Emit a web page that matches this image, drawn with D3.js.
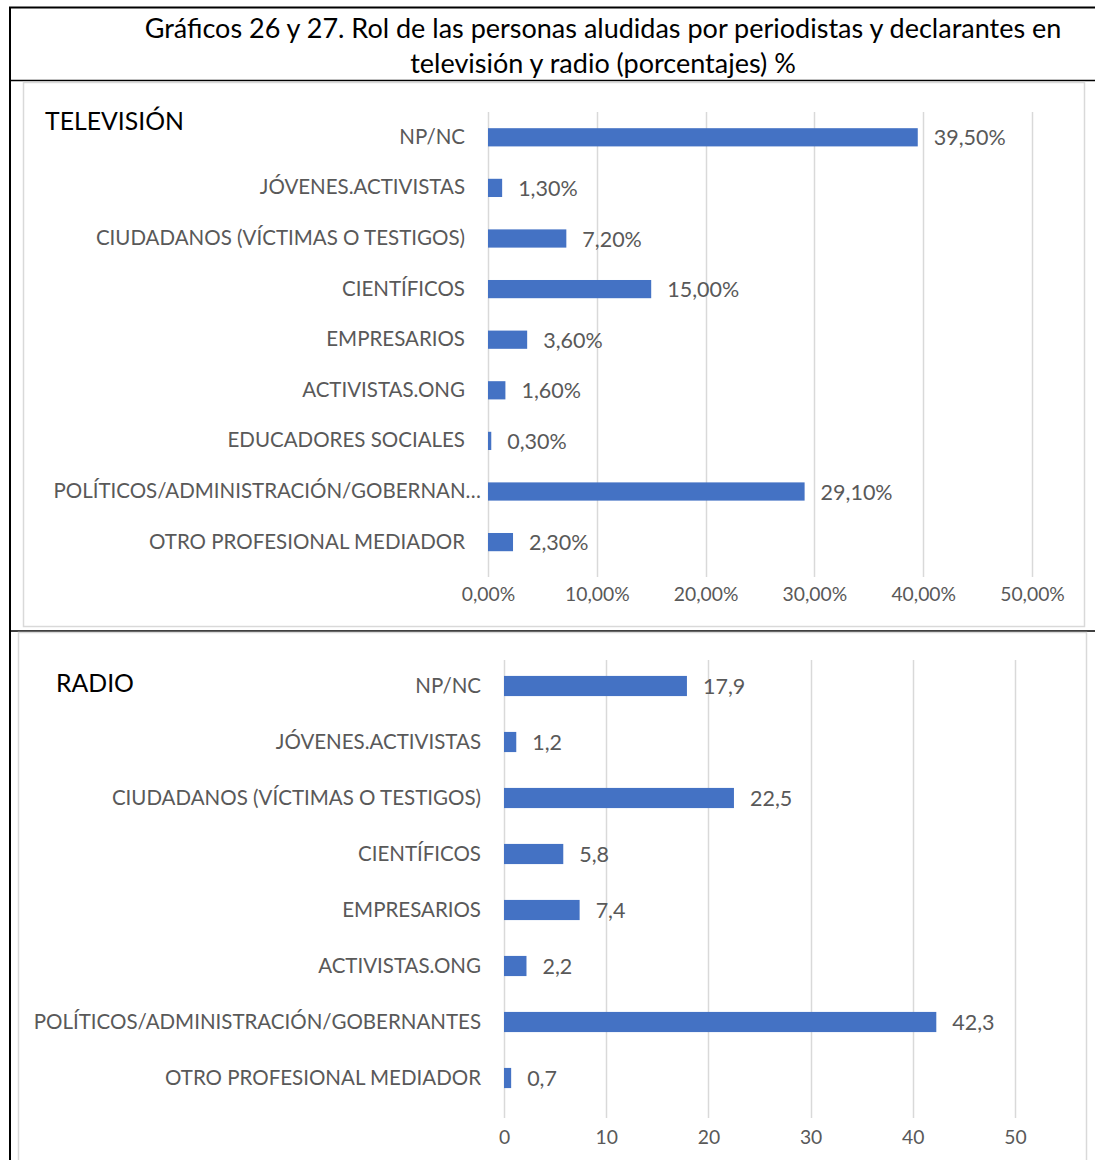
<!DOCTYPE html>
<html>
<head>
<meta charset="utf-8">
<script src="https://cdn.jsdelivr.net/npm/d3@7"></script>
<style>
  html, body { margin: 0; padding: 0; background: #fff; }
  svg { display: block; }
  text { font-family: Lato, "Open Sans", sans-serif; }
</style>
</head>
<body>
<svg id="chart" width="1095" height="1160"></svg>
<script>
// Categories and values for each medium
const tvCategories = [
  "NP/NC",
  "JÓVENES.ACTIVISTAS",
  "CIUDADANOS (VÍCTIMAS O TESTIGOS)",
  "CIENTÍFICOS",
  "EMPRESARIOS",
  "ACTIVISTAS.ONG",
  "EDUCADORES SOCIALES",
  "POLÍTICOS/ADMINISTRACIÓN/GOBERNAN…",
  "OTRO PROFESIONAL MEDIADOR"
];
const tvValues = [0.395, 0.013, 0.072, 0.150, 0.036, 0.016, 0.003, 0.291, 0.023];
const tvTicks = [0, 0.1, 0.2, 0.3, 0.4, 0.5];

const radioCategories = [
  "NP/NC",
  "JÓVENES.ACTIVISTAS",
  "CIUDADANOS (VÍCTIMAS O TESTIGOS)",
  "CIENTÍFICOS",
  "EMPRESARIOS",
  "ACTIVISTAS.ONG",
  "POLÍTICOS/ADMINISTRACIÓN/GOBERNANTES",
  "OTRO PROFESIONAL MEDIADOR"
];
const radioValues = [17.9, 1.2, 22.5, 5.8, 7.4, 2.2, 42.3, 0.7];
const radioTicks = [0, 10, 20, 30, 40, 50];

const titleLines = [
  "Gráficos 26 y 27. Rol de las personas aludidas por periodistas y declarantes en",
  "televisión y radio (porcentajes) %"
];

const esLocale = d3.formatLocale({ decimal: ",", thousands: ".", grouping: [3], currency: ["", " €"] });
const fmtPct = esLocale.format(".2%");
const fmtNum = v => esLocale.format(".1f")(v);
const fmtInt = esLocale.format("d");

const BAR = "#4472C4";
const GRID = "#d9d9d9";
const TXT = "#595959";

const svg = d3.select("#chart");

// Table frame around the two charts
const frame = svg.append("g").attr("stroke", "#000").attr("fill", "none");
frame.append("line").attr("x1", 9).attr("x2", 1095).attr("y1", 7.5).attr("y2", 7.5).attr("stroke-width", 2);
frame.append("line").attr("x1", 10).attr("x2", 10).attr("y1", 7).attr("y2", 1160).attr("stroke-width", 2);
frame.append("line").attr("x1", 9).attr("x2", 1095).attr("y1", 80.5).attr("y2", 80.5).attr("stroke-width", 1.5);
frame.append("line").attr("x1", 9).attr("x2", 1095).attr("y1", 631).attr("y2", 631).attr("stroke-width", 1.5);

// Title
svg.append("g").selectAll("text").data(titleLines).join("text")
  .attr("x", 603).attr("y", (d, i) => 37.5 + i * 35)
  .attr("text-anchor", "middle")
  .attr("font-size", 27)
  .attr("fill", "#000")
  .text(d => d);

function drawPanel(opts) {
  const g = svg.append("g");
  // chart area border
  g.append("rect")
    .attr("x", opts.box[0] + 0.5).attr("y", opts.box[1] + 0.5)
    .attr("width", opts.box[2]).attr("height", opts.box[3])
    .attr("fill", "#fff").attr("stroke", GRID).attr("stroke-width", 1.5);

  g.append("text")
    .attr("x", opts.titlePos[0]).attr("y", opts.titlePos[1])
    .attr("font-size", 24.8).attr("fill", "#000")
    .text(opts.title);

  const x = d3.scaleLinear().domain(opts.domain).range(opts.xRange);
  const y = d3.scaleBand().domain(opts.categories).range(opts.yRange).paddingInner(opts.pad).paddingOuter(opts.pad / 2);

  // vertical gridlines
  g.append("g").selectAll("line").data(opts.ticks).join("line")
    .attr("x1", d => Math.round(x(d)) + 0.5).attr("x2", d => Math.round(x(d)) + 0.5)
    .attr("y1", opts.gridY[0]).attr("y2", opts.gridY[1])
    .attr("stroke", GRID).attr("stroke-width", 1.5);

  // x axis tick labels
  const axis = d3.axisBottom(x).tickValues(opts.ticks).tickFormat(opts.tickFmt).tickSize(0).tickPadding(0);
  const ax = g.append("g").attr("transform", `translate(0,${opts.tickY})`).call(axis);
  ax.select(".domain").remove();
  ax.selectAll("text").attr("font-size", 19.3).attr("fill", TXT).attr("font-family", null);

  // category labels (a truncated label sits closer to the axis)
  const ay = d3.axisLeft(y).tickSize(0).tickPadding(0);
  const yg = g.append("g").attr("transform", `translate(${opts.labelX},0)`).call(ay);
  yg.select(".domain").remove();
  yg.selectAll("text").attr("font-size", 20.5).attr("fill", TXT).attr("font-family", null).attr("dy", "0.32em")
    .attr("x", d => d.endsWith("…") ? 16 : 0);

  // bars
  g.append("g").selectAll("rect").data(opts.values).join("rect")
    .attr("x", x(0))
    .attr("y", (d, i) => y(opts.categories[i]))
    .attr("width", d => x(d) - x(0))
    .attr("height", y.bandwidth())
    .attr("fill", BAR);

  // value labels
  g.append("g").selectAll("text").data(opts.values).join("text")
    .attr("x", d => x(d) + 16)
    .attr("y", (d, i) => y(opts.categories[i]) + y.bandwidth() / 2)
    .attr("dy", "0.38em")
    .attr("font-size", 21.5).attr("fill", TXT)
    .text(d => opts.valueFmt(d));
}

drawPanel({
  box: [23, 82, 1061, 544],
  title: "TELEVISIÓN", titlePos: [45, 130],
  categories: tvCategories, values: tvValues, ticks: tvTicks,
  domain: [0, 0.5], xRange: [488, 1032],
  yRange: [112, 567.4], pad: 0.64,
  gridY: [112, 577], tickY: 587, labelX: 465,
  tickFmt: fmtPct, valueFmt: fmtPct
});

drawPanel({
  box: [18, 632, 1068, 540],
  title: "RADIO", titlePos: [56, 692],
  categories: radioCategories, values: radioValues, ticks: radioTicks,
  domain: [0, 50], xRange: [504, 1015],
  yRange: [658, 1106], pad: 0.64,
  gridY: [660, 1118], tickY: 1130, labelX: 481,
  tickFmt: fmtInt, valueFmt: fmtNum
});
</script>
</body>
</html>
